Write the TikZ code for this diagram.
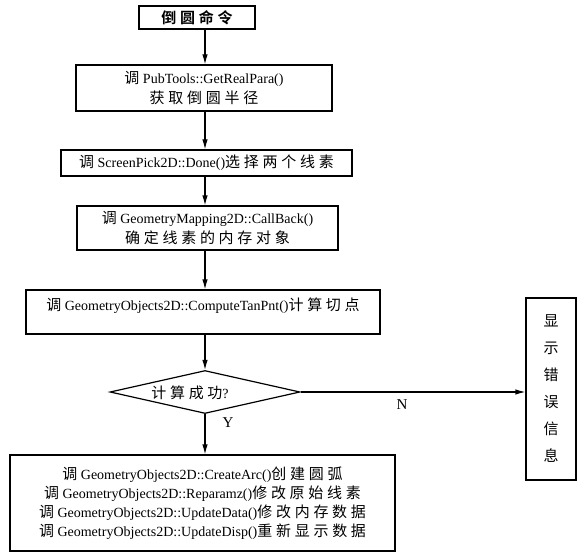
\documentclass[tikz,border=0pt]{standalone}
\usepackage{fontspec}
\setmainfont{Liberation Serif}
\newfontfamily\cjk[Scale=1.07,LetterSpace=25]{Noto Sans CJK SC}
\newfontfamily\cjkb[Scale=1.07,LetterSpace=25]{Noto Sans CJK SC Bold}
\usetikzlibrary{shapes.geometric,arrows.meta}
\begin{document}
\begin{tikzpicture}[x=1pt,y=-1pt,
  box/.style={draw,line width=1.2pt,inner sep=0pt,align=center,font=\fontsize{14}{20}\selectfont},
  txt/.style={inner sep=0pt,align=center,font=\fontsize{14}{20}\selectfont},
  arr/.style={line width=1.2pt,-{Latex[length=10pt,width=5.5pt]}},
  lab/.style={inner sep=0pt,font=\fontsize{15}{18}\selectfont}]
\useasboundingbox (0,0) rectangle (583,556);
\coordinate (ax) at (205,0);
\node[box,minimum width=116pt,minimum height=23pt] (b1) at (197,17.5) {{\cjkb 倒圆命令}};
\node[box,minimum width=256pt,minimum height=46pt] (b2) at (204,88) {{\cjk 调} PubTools::GetRealPara()\\{\cjk 获取倒圆半径}};
\node[box,minimum width=291pt,minimum height=26pt] (b3) at (206.5,163) {{\cjk 调} ScreenPick2D::Done(){\cjk 选择两个线素}};
\node[box,minimum width=261pt,minimum height=44pt] (b4) at (207.5,228) {{\cjk 调} GeometryMapping2D::CallBack()\\{\cjk 确定线素的内存对象}};
\node[box,minimum width=354pt,minimum height=44pt] (b5) at (203,312) {};
\node[txt] (b5t) at (203,306) {{\cjk 调} GeometryObjects2D::ComputeTanPnt(){\cjk 计算切点}};
\node[draw,line width=1.2pt,diamond,aspect=4.4,inner sep=0pt,minimum width=190pt,minimum height=43pt] (d) at (205,392) {};
\node[txt] (dt) at (190,393) {{\cjk 计算成功}?};
\node[draw,line width=1.2pt,inner sep=0pt,minimum width=50pt,minimum height=182pt,align=center,font=\fontsize{14}{27}\selectfont] (b6) at (551,389) {{\cjk 显}\\{\cjk 示}\\{\cjk 错}\\{\cjk 误}\\{\cjk 信}\\{\cjk 息}};
\node[box,minimum width=385pt,minimum height=96pt,font=\fontsize{14}{19}\selectfont] (b7) at (202.5,503) {{\cjk 调} GeometryObjects2D::CreateArc(){\cjk 创建圆弧}\\{\cjk 调} GeometryObjects2D::Reparamz(){\cjk 修改原始线素}\\{\cjk 调} GeometryObjects2D::UpdateData(){\cjk 修改内存数据}\\{\cjk 调} GeometryObjects2D::UpdateDisp(){\cjk 重新显示数据}};
\draw[arr] (b1.south -| ax) -- (b2.north -| ax);
\draw[arr] (b2.south -| ax) -- (b3.north -| ax);
\draw[arr] (b3.south -| ax) -- (b4.north -| ax);
\draw[arr] (b4.south -| ax) -- (b5.north -| ax);
\draw[arr] (b5.south -| ax) -- (d.north);
\draw[arr] (d.south) -- (b7.north -| ax);
\draw[arr] (d.east) -- (d.east -| b6.west);
\node[lab] (ly) at (228,423) {Y};
\node[lab] (ln) at (402,405) {N};
\end{tikzpicture}
\end{document}
